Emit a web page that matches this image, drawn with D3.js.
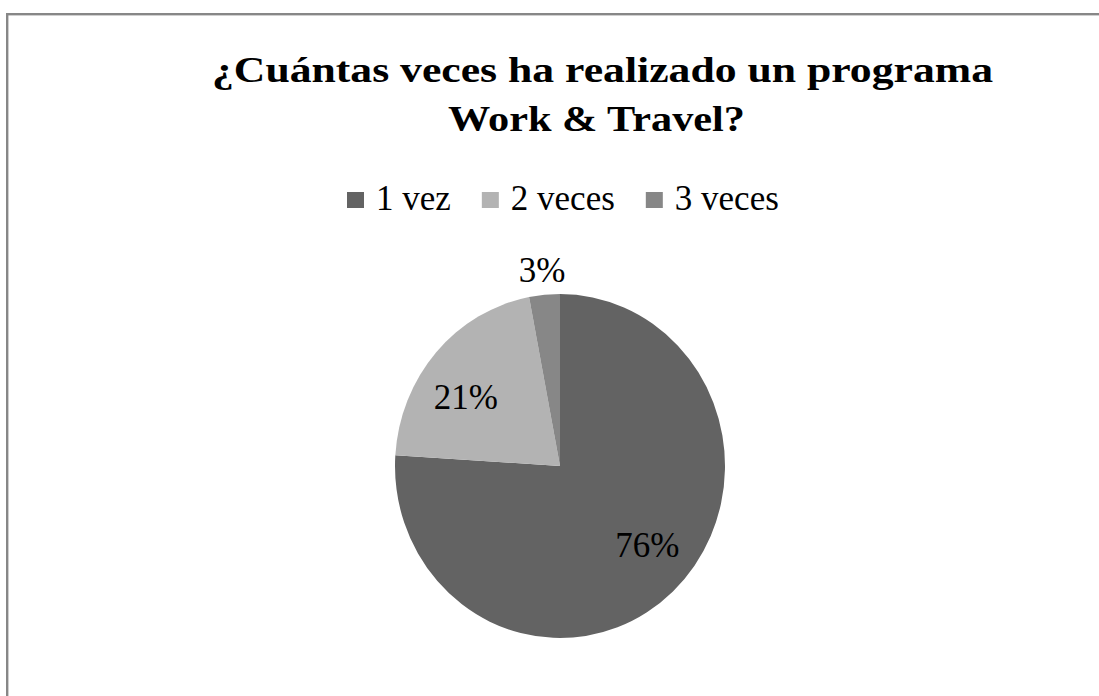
<!DOCTYPE html>
<html>
<head>
<meta charset="utf-8">
<script src="https://cdn.jsdelivr.net/npm/d3@7"></script>
<style>
  html, body { margin: 0; padding: 0; background: #ffffff; }
  svg { display: block; }
</style>
</head>
<body>
<svg id="chart" width="1099" height="696"></svg>
<script>
// ---- data ----
const titleLines = ["¿Cuántas veces ha realizado  un programa", "Work  & Travel?"];
const categories = ["1 vez", "2 veces", "3 veces"];
const values = [76, 21, 3];
const colors = ["#636363", "#b3b3b3", "#878787"];

// ---- layout ----
const W = 1099, H = 696;
const svg = d3.select("#chart");
svg.append("rect").attr("width", W).attr("height", H).attr("fill", "#ffffff");

// chart frame (extends past right & bottom edges)
svg.append("rect")
  .attr("x", 7.2).attr("y", 14.2)
  .attr("width", 1300).attr("height", 900)
  .attr("fill", "none").attr("stroke", "#878787").attr("stroke-width", 2.4);

const serif = "'Liberation Serif', 'Times New Roman', Times, serif";

// title
const titleSpecs = [
  { cx: 602.5, y: 81.5, len: 781 },
  { cx: 596.5, y: 131, len: 297 }
];
titleLines.forEach((t, i) => {
  svg.append("text")
    .attr("x", titleSpecs[i].cx - titleSpecs[i].len / 2)
    .attr("y", titleSpecs[i].y)
    .attr("textLength", titleSpecs[i].len)
    .attr("lengthAdjust", "spacingAndGlyphs")
    .attr("font-family", serif)
    .attr("font-weight", "bold")
    .attr("font-size", 35)
    .attr("fill", "#000")
    .text(t);
});

// legend
const color = d3.scaleOrdinal().domain(categories).range(colors);
const legend = svg.append("g");
let lx = 347;
categories.forEach((c, i) => {
  const g = legend.append("g");
  g.append("rect")
    .attr("x", lx).attr("y", 192)
    .attr("width", 17).attr("height", 16)
    .attr("fill", color(c));
  const txt = g.append("text")
    .attr("x", lx + 29).attr("y", 210)
    .attr("font-family", serif)
    .attr("font-size", 35)
    .attr("fill", "#000")
    .text(c);
  const tw = txt.node().getComputedTextLength();
  lx = lx + 29 + tw + 31;
});

// pie
const cx = 560, cy = 466, R = 165, yScale = 172 / 165;
const pie = d3.pie().sort(null).value(d => d.v).startAngle(0).endAngle(2 * Math.PI);
const data = pie(categories.map((c, i) => ({ c, v: values[i] })));
const arc = d3.arc().innerRadius(0).outerRadius(R);

const pg = svg.append("g").attr("transform", `translate(${cx},${cy}) scale(1,${yScale})`);
pg.selectAll("path").data(data).enter().append("path")
  .attr("d", arc)
  .attr("fill", d => color(d.data.c));

// labels
const total = d3.sum(values);
const labelShift = -6 * Math.PI / 180;   // slight counter-clockwise placement of inside labels
data.forEach(d => {
  const share = d.data.v / total;
  const outside = share < 0.05;
  const r = outside ? R * 1.15 : R * 0.70;
  const a = (d.startAngle + d.endAngle) / 2 + (outside ? 0 : labelShift);
  const x = r * Math.sin(a), y = -r * Math.cos(a);
  svg.append("text")
    .attr("x", cx + x)
    .attr("y", cy + y * yScale)
    .attr("dy", "0.36em")
    .attr("text-anchor", "middle")
    .attr("font-family", serif)
    .attr("font-size", 35)
    .attr("fill", "#000")
    .text(Math.round(share * 100) + "%");
});
</script>
</body>
</html>
